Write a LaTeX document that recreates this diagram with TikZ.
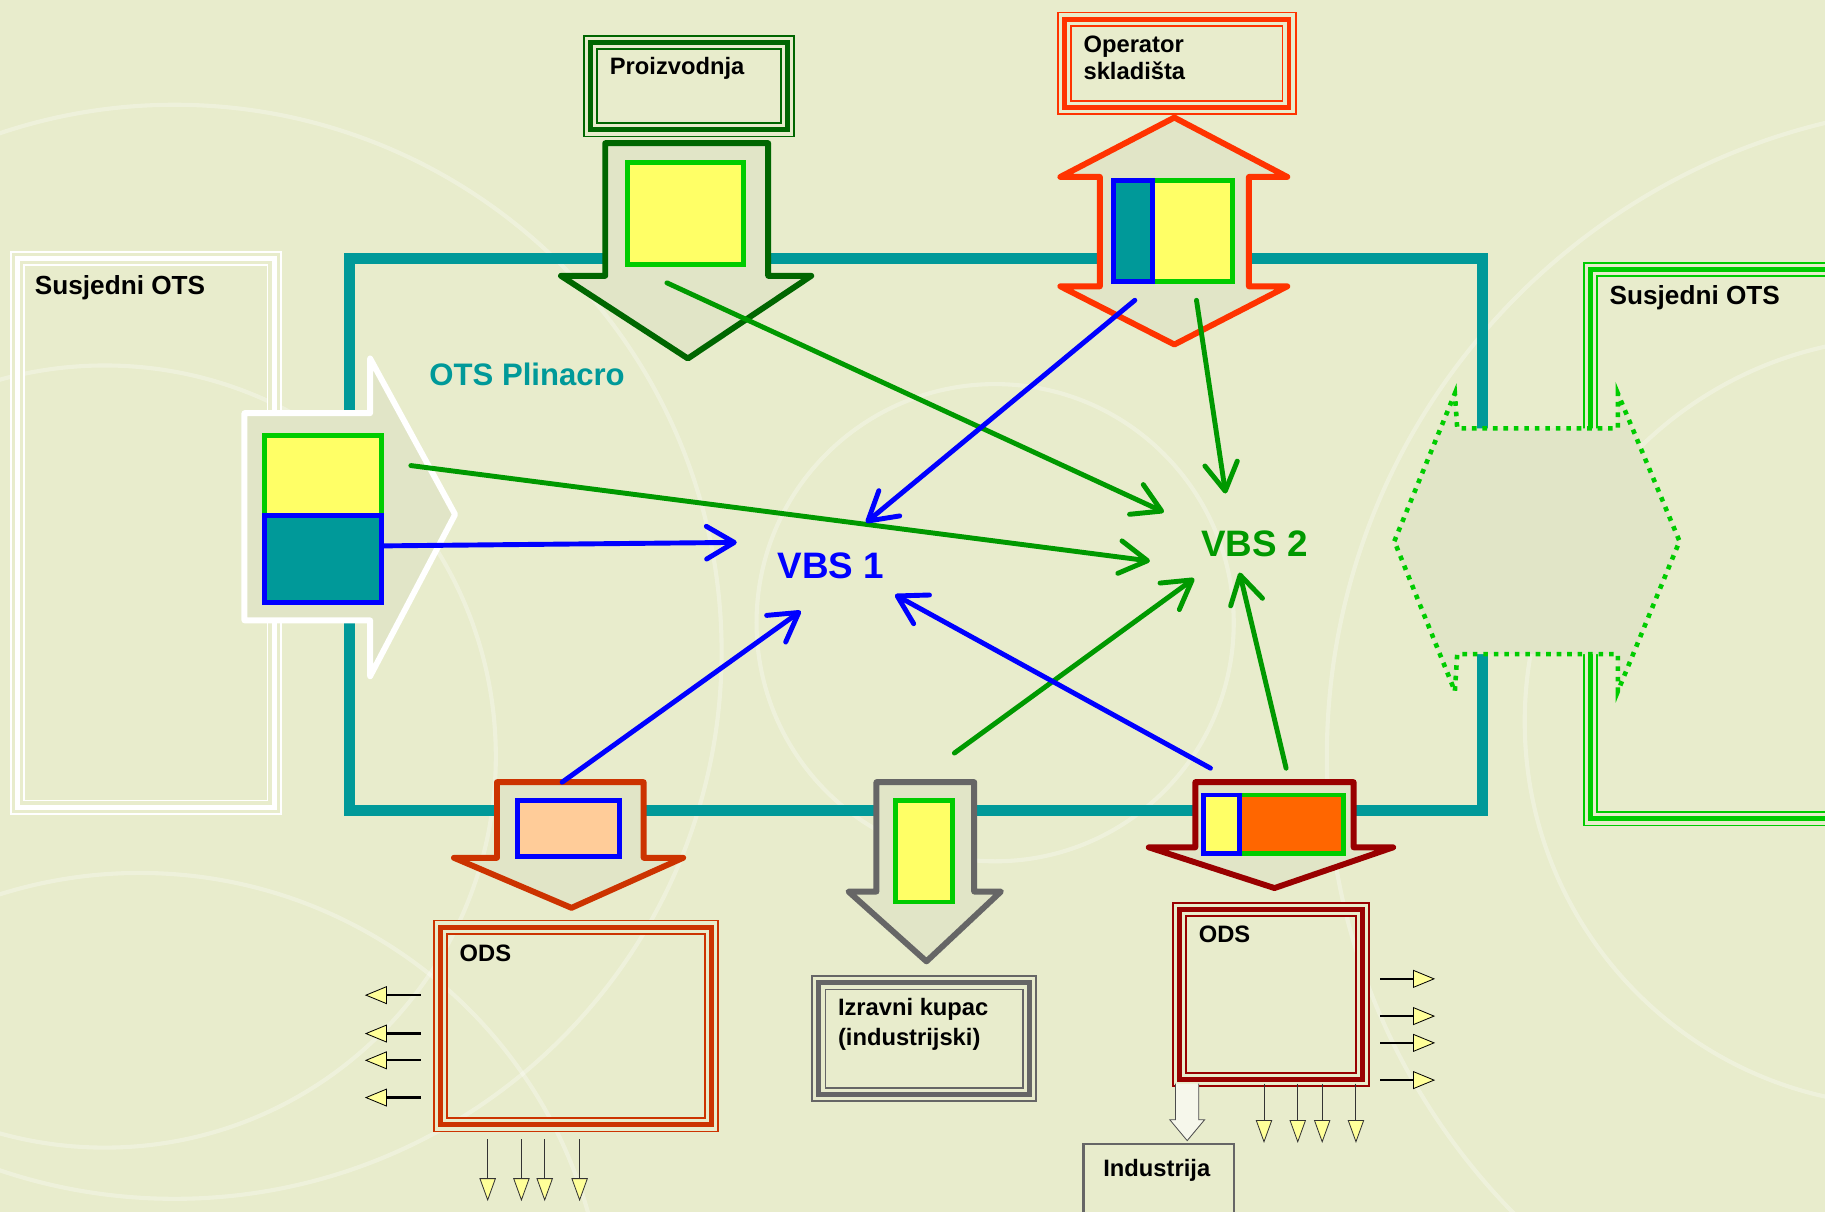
\documentclass[tikz,border=0pt]{standalone}
\usepackage{fontspec}
\setmainfont{Liberation Sans}
\usetikzlibrary{arrows.meta, positioning, calc, fit}

\definecolor{bgc}{RGB}{232,236,204}
\definecolor{arrfill}{RGB}{225,229,199}
\definecolor{otsteal}{RGB}{0,153,153}
\definecolor{lgreen}{RGB}{0,204,0}
\definecolor{cgreen}{RGB}{0,153,0}
\definecolor{dgreen}{RGB}{0,102,0}
\definecolor{oranred}{RGB}{255,51,0}
\definecolor{brownred}{RGB}{204,51,0}
\definecolor{dred}{RGB}{153,0,0}
\definecolor{greyline}{RGB}{102,102,102}
\definecolor{yel}{RGB}{255,255,102}
\definecolor{peach}{RGB}{255,204,153}
\definecolor{orng}{RGB}{255,102,0}
\definecolor{pale}{RGB}{255,255,153}

\begin{document}
\begin{tikzpicture}[x=0.025cm, y=-0.025cm,
    every node/.style={inner sep=0pt, outer sep=0pt},
    lab/.style={font=\fontsize{14.5}{17}\selectfont\bfseries, anchor=base west},
    biglab/.style={font=\fontsize{16}{19}\selectfont\bfseries, anchor=base west},
    vbs/.style={font=\fontsize{22.5}{26}\selectfont\bfseries, anchor=base west, text=#1},
    triple/.style={draw=#1, line width=9.2pt, postaction={draw=bgc, line width=7pt}, postaction={draw=#1, line width=3pt}},
    blockarr/.style={draw=#1, fill=arrfill, line width=3.6pt, line join=round},
    cbox/.style 2 args={draw=#1, fill=#2, line width=3pt},
    flow/.style={draw=#1, line width=3pt, line cap=round, -{Straight Barb[length=17pt, width=20pt, round]}},
    outarr/.style={draw=black, line width=#1, -{Triangle[length=13.5pt, width=11pt, fill=pale, line width'=0.5pt]}},
    downarr/.style={draw=black!80, line width=0.6pt, -{Triangle[length=14pt, width=10pt, fill=pale, line width'=0.5pt]}},
    deco/.style={draw=white, opacity=0.3, line width=2.5pt}]

  % Background
  \fill[bgc] (0,0) rectangle (1568,1041);
  \begin{scope}
  \clip (0,0) rectangle (1568,1041);
  \foreach \cx/\cy/\r in {150/560/470, 90/650/336, 855/535/205, 1700/650/560, 1640/620/330, 120/1150/400}
    \draw[deco] (\cx,\cy) circle (\r);

  % OTS Plinacro
  \node[fit={(300,222) (1273.5,696.5)}, draw=otsteal, line width=6.7pt] (plinacro) {};
  \node[font=\fontsize{19}{22}\selectfont\bfseries, text=otsteal, anchor=base west] (plinacrolab) at (369,331) {OTS Plinacro};

  % Neighbouring systems
  \node[fit={(15,222) (235.5,693.5)}, triple=white] (susL) {};
  \node[biglab] (susLlab) at (30,253) {Susjedni OTS};
  \node[fit={(1366.5,231.5) (1640,703.5)}, triple=lgreen] (susR) {};
  \node[biglab] (susRlab) at (1383,262) {Susjedni OTS};

  % Production and storage
  \node[fit={(507.5,36.5) (676.5,111.5)}, triple=dgreen] (proiz) {};
  \node[lab] (proizlab) at (524,64) {Proizvodnja};
  \node[fit={(914.5,16.5) (1107.5,92.5)}, triple=oranred] (oper) {};
  \node[lab, anchor=north west, align=left, font=\fontsize{14.5}{16.7}\selectfont\bfseries] (operlab) at (931,31) {Operator\\skladišta};

  % Entry arrows
  \draw[blockarr=dgreen] (520,123) -- (660,123) -- (660,237) -- (697,237) -- (591,308) -- (482,237) -- (520,237) -- cycle;
  \draw[cbox={lgreen}{yel}] (539,140) rectangle (639,227);

  \draw[blockarr=oranred] (1009,101) -- (1106,152) -- (1073,152) -- (1073,246) -- (1106,246) -- (1009,296)
    -- (911,246) -- (945,246) -- (945,152) -- (911,152) -- cycle;
  \draw[cbox={lgreen}{yel}] (990,155) rectangle (1059,242);
  \draw[cbox={blue}{otsteal}] (957,155) rectangle (990,242);

  \draw[blockarr=white] (210,355) -- (318,355) -- (318,308) -- (391,442) -- (318,581) -- (318,533) -- (210,533) -- cycle;
  \draw[cbox={lgreen}{yel}] (227,374) rectangle (328,443);
  \draw[cbox={blue}{otsteal}] (227,443) rectangle (328,518);

  \draw[draw=lgreen, fill=arrfill, line width=2.8pt, dash pattern=on 2.8pt off 3.6pt]
    (1198,465) -- (1250,338) -- (1252,368) -- (1390,368) -- (1390,338) -- (1443,465)
    -- (1390,594) -- (1390,562) -- (1252,562) -- (1250,594) -- cycle;

  % Exit arrows
  \draw[blockarr=brownred] (427,672) -- (553,672) -- (553,737) -- (587,737) -- (491,780) -- (390,737) -- (427,737) -- cycle;
  \draw[cbox={blue}{peach}] (445,688) rectangle (532,736);

  \draw[blockarr=greyline] (753,672) -- (837,672) -- (837,766) -- (860,766) -- (796,826) -- (729,766) -- (753,766) -- cycle;
  \draw[cbox={lgreen}{yel}] (769,688) rectangle (818,775);

  \draw[blockarr=dred] (1027,672) -- (1163,672) -- (1163,728) -- (1197,728) -- (1095,763) -- (987,728) -- (1027,728) -- cycle;
  \draw[cbox={lgreen}{orng}] (1065,683) rectangle (1154,733);
  \draw[cbox={blue}{yel}] (1034,683) rectangle (1065,733);

  % Customers
  \node[fit={(378.5,796.5) (611.5,966.5)}, triple=brownred] (odsL) {};
  \node[lab] (odsLlab) at (395,826) {ODS};
  \node[fit={(703.5,844.5) (884.5,940.5)}, triple=greyline] (kupac) {};
  \node[lab, anchor=north west, align=left, font=\fontsize{14.5}{18.3}\selectfont\bfseries] (kupaclab) at (720,858) {Izravni kupac\\(industrijski)};
  \node[fit={(1013.5,781.5) (1170.5,927.5)}, triple=dred] (odsR) {};
  \node[lab] (odsRlab) at (1030,810) {ODS};
  \node[fit={(931,983) (1060,1080)}, draw=greyline, line width=1.5pt] (ind) {};
  \node[lab] (indlab) at (948,1011) {Industrija};

  % Small outlets
  \foreach \dy in {58.5,91.5,114.5,146.5}
    \draw[outarr=1.4pt] ($(odsL.north west)+(-17,\dy)$) -- ++(-48,0);
  \foreach \dx in {40.5,69.5,89.5,119.5}
    \draw[downarr] ($(odsL.south west)+(\dx,12.5)$) -- ++(0,53);
  \foreach \dy in {59.5,91.5,114.5,146.5}
    \draw[outarr=0.9pt] ($(odsR.north east)+(15.5,\dy)$) -- ++(47,0);
  \foreach \dx in {72.5,101.5,122.5,151.5}
    \draw[downarr] ($(odsR.south west)+(\dx,3.5)$) -- ++(0,51);
  \draw[fill=bgc!40!white, draw=black!70, line width=0.5pt] ($(odsR.south west)+(-3.5,3.5)$) -- ++(0,31) -- ++(-5,0)
    -- ++(15,18) -- ++(15,-18) -- ++(-5,0) -- ++(0,-31);

  % Balancing points
  \node[vbs=blue] (vbs1) at (668,497) {VBS 1};
  \node[vbs=cgreen] (vbs2) at (1032,478) {VBS 2};

  \coordinate (proizOut) at (573,243);
  \coordinate (susLyOut) at (353,400);
  \coordinate (susLtOut) at (330,469);
  \coordinate (operB) at (975,258);
  \coordinate (operG) at (1028,258);
  \coordinate (peachOut) at (483,672);
  \coordinate (kupacOut) at (820,647);
  \coordinate (odsRB) at (1040,660);
  \coordinate (odsRG) at (1105,660);

  \coordinate (v1w) at (633,466);
  \coordinate (v1n) at (744,449);
  \coordinate (v1s) at (688,525);
  \coordinate (v1se) at (769,511);
  \coordinate (v2n) at (1000,440);
  \coordinate (v2w) at (988,482);
  \coordinate (v2t) at (1053,424);
  \coordinate (v2s) at (1026,497);
  \coordinate (v2se) at (1065,492);

  % Flows
  \draw[flow=cgreen] (proizOut) -- (v2n);
  \draw[flow=cgreen] (susLyOut) -- (v2w);
  \draw[flow=blue] (susLtOut) -- (v1w);
  \draw[flow=blue] (operB) -- (v1n);
  \draw[flow=cgreen] (operG) -- (v2t);
  \draw[flow=blue] (peachOut) -- (v1s);
  \draw[flow=cgreen] (kupacOut) -- (v2s);
  \draw[flow=blue] (odsRB) -- (v1se);
  \draw[flow=cgreen] (odsRG) -- (v2se);
  \end{scope}

  \pgfresetboundingbox
  \useasboundingbox (0,0) rectangle (1568,1041);
\end{tikzpicture}
\end{document}
